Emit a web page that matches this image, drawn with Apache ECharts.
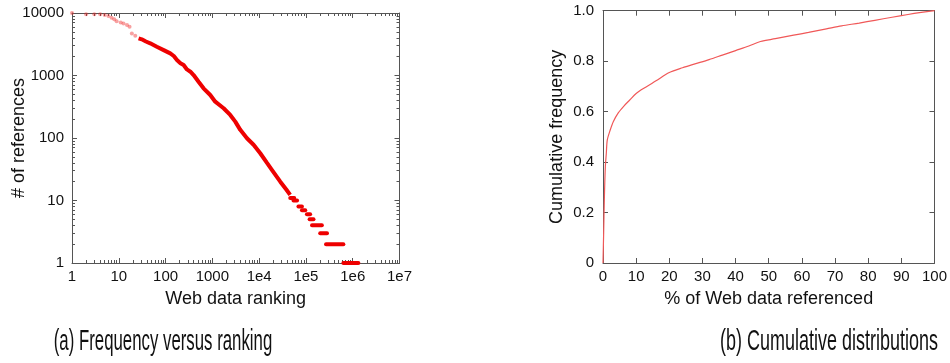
<!DOCTYPE html>
<html>
<head>
<meta charset="utf-8">
<script src="https://cdn.jsdelivr.net/npm/echarts@6/dist/echarts.min.js"></script>
<style>
html,body{margin:0;padding:0;background:#fff;}
#c{width:950px;height:363px;}
</style>
</head>
<body>
<div id="c"></div>
<script>
// ---- Panel (a): frequency versus ranking (log-log) ----
const xTickLabels = ['1','10','100','1000','1e4','1e5','1e6','1e7'];
const yTickLabels = ['1','10','100','1000','10000'];

// top-ranked items (sparse, lighter markers): [rank, references]
const headRank = [1, 2, 3, 4, 5, 6, 7, 8, 9, 11, 12.6, 15, 17, 19, 22.5];
const headRefs = [10000, 9570, 9570, 9570, 9250, 8920, 8390, 7960, 7410, 7070, 6820, 6410, 6020, 4720, 4330];

// dense body of the distribution
const bodyRank = [26.5, 31, 38, 47, 65, 91, 126, 150, 175, 208, 243, 286, 340, 397, 507, 648, 901, 1153, 1740, 2410, 3090, 3950, 5490, 7600, 10560, 14700, 18700, 28300, 38000, 46000];
const bodyRefs = [3930, 3790, 3500, 3270, 2880, 2550, 2260, 2050, 1770, 1570, 1470, 1250, 1150, 1018, 796, 624, 488, 381, 299, 234, 183, 135, 99, 78, 57, 40, 31, 20, 15, 12.3];

// tail: integer reference counts held over a range of ranks
const tailLevel = [11, 10, 8, 7, 6, 5, 4, 3, 2, 1];
const tailFrom  = [46200, 54300, 69200, 82200, 105000, 120000, 135000, 202000, 269000, 631000];
const tailTo    = [56200, 64600, 82200, 96600, 123000, 145000, 219000, 282000, 631000, 1320000];

// ---- Panel (b): cumulative distribution ----
const cdfXTicks = ['0','10','20','30','40','50','60','70','80','90','100'];
const cdfYTicks = ['0','0.2','0.4','0.6','0.8','1.0'];
const cdfX = [0, 0.2, 0.4, 0.7, 1.0, 1.3, 2.2, 3.1, 4.6, 6.3, 8.0, 10, 13, 16, 20, 24, 28, 32, 36, 40, 44, 47.5, 52, 57.5, 62, 67.4, 72, 77.3, 82, 87.2, 92, 96, 100];
const cdfY = [0, 0.12, 0.25, 0.38, 0.435, 0.488, 0.528, 0.56, 0.595, 0.622, 0.645, 0.672, 0.698, 0.722, 0.755, 0.774, 0.79, 0.806, 0.824, 0.842, 0.86, 0.878, 0.889, 0.903, 0.914, 0.928, 0.94, 0.951, 0.962, 0.974, 0.985, 0.993, 1.0];

const FONT = '"Liberation Sans", Arial, sans-serif';
const AXIS_COLOR = '#555';
const TEXT_COLOR = '#111';

function logIdx(v){ return Math.round(Math.log10(v)); }
// minor tick positions (2..9 within each decade) for the log axes
function logMinors(maxExp){
  const out = [];
  for (let e = 0; e < maxExp; e++) for (let m = 2; m <= 9; m++) out.push(m * Math.pow(10, e));
  return out;
}
const minorX = logMinors(7);
const minorY = logMinors(4);

const headData = headRank.map((r,i)=>[r, headRefs[i]]);
const bodyData = bodyRank.map((r,i)=>[r, bodyRefs[i]]);
const cdfData = cdfX.map((x,i)=>[x, cdfY[i]]);

function frameAxis(extra){
  return Object.assign({
    axisLine:{show:true, onZero:false, lineStyle:{color:AXIS_COLOR, width:1}},
    axisTick:{show:true, inside:true, length:5, lineStyle:{color:AXIS_COLOR}},
    splitLine:{show:false}
  }, extra);
}
function minorAxis(extra, values){
  return Object.assign({
    type:'log', logBase:10,
    axisLine:{show:false},
    axisTick:{show:true, inside:true, length:3, customValues:values, lineStyle:{color:AXIS_COLOR}},
    axisLabel:{show:false}, splitLine:{show:false}
  }, extra);
}
const tickText = {color:TEXT_COLOR, fontSize:15, fontFamily:FONT};
const nameText = {color:TEXT_COLOR, fontSize:18, fontFamily:FONT};

const xAxes = [
  frameAxis({
    gridIndex:0, type:'log', logBase:10, min:1, max:1e7, position:'bottom',
    axisLabel:Object.assign({margin:6, formatter:v=>xTickLabels[logIdx(v)]}, tickText),
    name:'Web data ranking', nameLocation:'middle', nameGap:27, nameMoveOverlap:false, nameTextStyle:nameText
  }),
  frameAxis({
    gridIndex:0, type:'log', logBase:10, min:1, max:1e7, position:'top',
    axisLabel:{show:false}
  }),
  frameAxis({
    gridIndex:1, type:'value', min:0, max:100, interval:10, position:'bottom',
    axisLabel:Object.assign({margin:6, formatter:v=>cdfXTicks[Math.round(v/10)]}, tickText),
    name:'% of Web data referenced', nameLocation:'middle', nameGap:27, nameMoveOverlap:false, nameTextStyle:nameText
  }),
  frameAxis({
    gridIndex:1, type:'value', min:0, max:100, interval:10, position:'top',
    axisLabel:{show:false}
  }),
  minorAxis({gridIndex:0, min:1, max:1e7, position:'bottom'}, minorX),
  minorAxis({gridIndex:0, min:1, max:1e7, position:'top'}, minorX)
];

const yAxes = [
  frameAxis({
    gridIndex:0, type:'log', logBase:10, min:1, max:10000, position:'left',
    axisLabel:Object.assign({margin:8, formatter:v=>yTickLabels[logIdx(v)]}, tickText),
    name:'# of references', nameLocation:'middle', nameGap:44, nameMoveOverlap:false, nameTextStyle:nameText
  }),
  frameAxis({
    gridIndex:0, type:'log', logBase:10, min:1, max:10000, position:'right',
    axisLabel:{show:false}
  }),
  frameAxis({
    gridIndex:1, type:'value', min:0, max:1, interval:0.2, position:'left',
    axisLabel:Object.assign({margin:9, formatter:v=>cdfYTicks[Math.round(v*5)]}, tickText),
    name:'Cumulative frequency', nameLocation:'middle', nameGap:37, nameMoveOverlap:false, nameTextStyle:nameText
  }),
  frameAxis({
    gridIndex:1, type:'value', min:0, max:1, interval:0.2, position:'right',
    axisLabel:{show:false}
  }),
  minorAxis({gridIndex:0, min:1, max:10000, position:'left'}, minorY),
  minorAxis({gridIndex:0, min:1, max:10000, position:'right'}, minorY)
];

const series = [
  {type:'scatter', xAxisIndex:0, yAxisIndex:0, data:headData, symbol:'circle', symbolSize:4,
   itemStyle:{color:'rgba(240,40,40,0.55)'}, silent:true, z:3},
  {type:'line', xAxisIndex:0, yAxisIndex:0, data:bodyData, showSymbol:false, symbol:'none',
   lineStyle:{color:'#ee0000', width:4}, silent:true, z:3}
];
tailLevel.forEach((lvl,i)=>{
  series.push({type:'line', xAxisIndex:0, yAxisIndex:0,
    data:[[tailFrom[i], lvl],[tailTo[i], lvl]], symbol:'none',
    lineStyle:{color:'#ee0000', width:4, cap:'round'}, silent:true, z:3});
});
series.push({type:'line', xAxisIndex:2, yAxisIndex:2, data:cdfData, symbol:'none', smooth:0.3,
  lineStyle:{color:'#f05858', width:1.2}, silent:true, z:3});

const chart = echarts.init(document.getElementById('c'), null, {renderer:'canvas'});
chart.setOption({
  animation:false,
  backgroundColor:'#fff',
  grid:[
    {left:72, right:550.5, top:13, bottom:100, containLabel:false},
    {left:603, right:10, top:10.7, bottom:100, containLabel:false}
  ],
  xAxis:xAxes,
  yAxis:yAxes,
  series:series,
  graphic:[
    {type:'text', x:163, y:342, scaleX:0.56, silent:true,
     style:{text:'(a) Frequency versus ranking', font:'30px '+FONT, fill:TEXT_COLOR, textAlign:'center', textVerticalAlign:'middle'}},
    {type:'text', x:829, y:342, scaleX:0.6, silent:true,
     style:{text:'(b) Cumulative distributions', font:'30px '+FONT, fill:TEXT_COLOR, textAlign:'center', textVerticalAlign:'middle'}}
  ]
});
</script>
</body>
</html>
